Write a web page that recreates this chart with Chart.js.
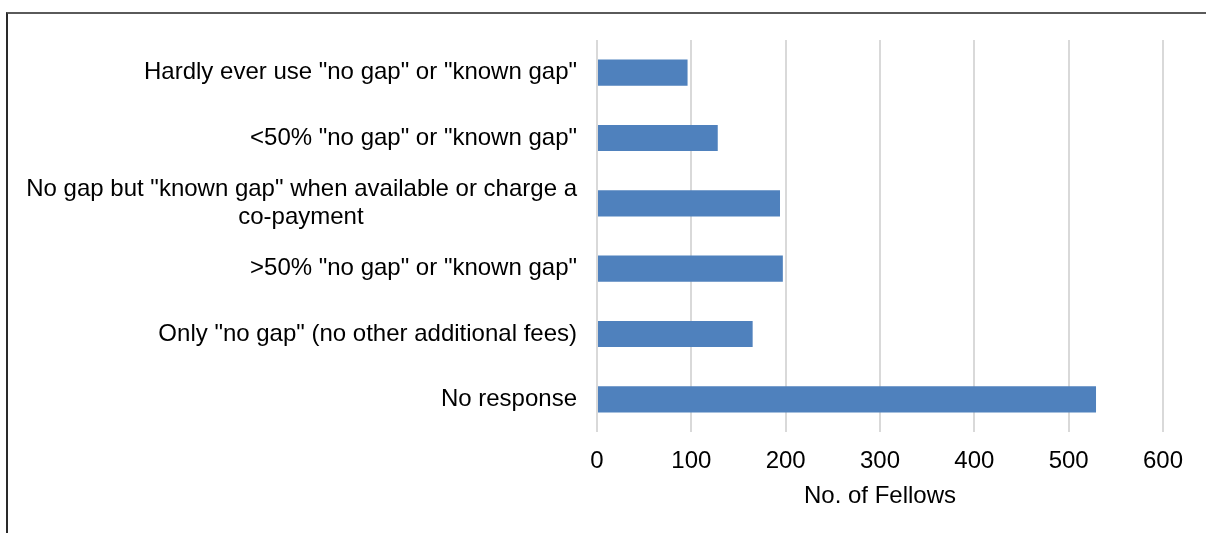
<!DOCTYPE html>
<html>
<head>
<meta charset="utf-8">
<script src="https://cdn.jsdelivr.net/npm/chart.js@4"></script>
<style>
  html, body { margin: 0; padding: 0; background: #fff; overflow: hidden; }
  #wrap { position: relative; width: 1206px; height: 533px; }
  #frame { position: absolute; left: 6px; top: 12px; width: 1400px; height: 700px;
           border-top: 2px solid #5a5a5a; border-left: 2px solid #2a2a2a; pointer-events: none; }
  canvas { position: absolute; left: 0; top: 0; }
</style>
</head>
<body>
<div id="wrap">
  <canvas id="c" width="1206" height="533"></canvas>
  <div id="frame"></div>
</div>
<script>
const categories = [
  ['Hardly ever use "no gap" or "known gap"'],
  ['<50% "no gap" or "known gap"'],
  ['No gap but "known gap" when available or charge a', 'co-payment' + '\u00A0'.repeat(32)],
  ['>50% "no gap" or "known gap"'],
  ['Only "no gap" (no other additional fees)'],
  ['No response']
];
const fellows = [96, 128, 194, 197, 165, 529];
const xTicks = [0, 100, 200, 300, 400, 500, 600];
const xTitle = 'No. of Fellows';

const FONT = '"Liberation Sans", Arial, sans-serif';

new Chart(document.getElementById('c'), {
  type: 'bar',
  data: {
    labels: categories,
    datasets: [{
      data: fellows,
      backgroundColor: '#4f81bd',
      borderWidth: 0,
      barPercentage: 0.4,
      categoryPercentage: 1.0
    }]
  },
  options: {
    indexAxis: 'y',
    responsive: false,
    animation: false,
    devicePixelRatio: 1,
    layout: { padding: { left: 0, right: 43, top: 40, bottom: 22 } },
    plugins: { legend: { display: false }, tooltip: { enabled: false } },
    scales: {
      x: {
        min: xTicks[0],
        max: xTicks[xTicks.length - 1],
        afterBuildTicks: s => { s.ticks = xTicks.map(v => ({ value: v })); },
        afterFit: s => { s.height = 79; },
        grid: { color: '#d9d9d9', lineWidth: 2, drawTicks: false },
        border: { display: false },
        ticks: { color: '#000', font: { family: FONT, size: 24 }, padding: 15 },
        title: { display: true, text: xTitle, color: '#000',
                 font: { family: FONT, size: 24 }, padding: { top: 6, bottom: 0 } }
      },
      y: {
        afterFit: s => { s.width = 597; },
        grid: { display: false, drawTicks: false },
        border: { display: false },
        ticks: { color: '#000', font: { family: FONT, size: 24, lineHeight: 1.17 }, padding: 20 }
      }
    }
  }
});
</script>
</body>
</html>
